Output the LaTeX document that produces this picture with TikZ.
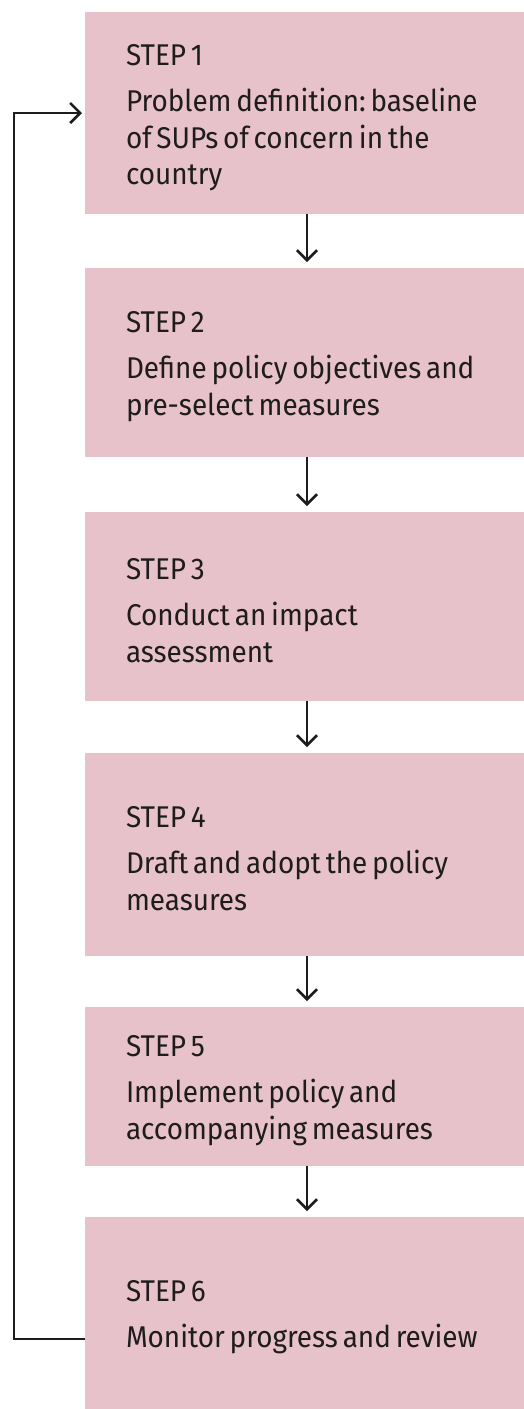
\documentclass[tikz,border=0pt]{standalone}
\usepackage{fontspec}
\setmainfont[FakeStretch=0.93]{Fira Sans}
\usetikzlibrary{arrows.meta}
\definecolor{stepfill}{HTML}{E8C2CA}
\definecolor{ink}{HTML}{1E1C1D}
\newcommand{\steplabel}[2]{\frenchspacing\spaceskip=0.16em plus 0.05em\relax
  \xspaceskip=\spaceskip #1\\[4.75pt]#2}
\begin{document}
\begin{tikzpicture}
[x=0.5pt,y=-0.5pt,%
  every node/.style={inner sep=0pt,outer sep=0pt},%
  stepbox/.style={fill=stepfill,minimum width=219.5pt},%
  steptext/.style={anchor=west,text width=205pt,align=left,text=ink,%
    font=\fontsize{15pt}{18.25pt}\selectfont},%
  flow/.style={draw=ink,line width=1.3pt,-{Straight Barb[length=5pt,width=10pt]}}]
\useasboundingbox (0,0) rectangle (524,1409);
% boxes
\node[stepbox,minimum height=101pt] (s1) at (304.5,113) {};
\node[stepbox,minimum height=94.5pt] (s2) at (304.5,362.5) {};
\node[stepbox,minimum height=94.5pt] (s3) at (304.5,606.5) {};
\node[stepbox,minimum height=101.5pt] (s4) at (304.5,854.5) {};
\node[stepbox,minimum height=79.5pt] (s5) at (304.5,1086.5) {};
\node[stepbox,minimum height=96pt] (s6) at (304.5,1313) {};
% texts
\node[steptext] (t1) at ([xshift=20.5pt,yshift=-2.5pt]s1.west)
  {\steplabel{STEP 1}{Problem definition: baseline\\of SUPs of concern in the\\country}};
\node[steptext] (t2) at ([xshift=20.5pt,yshift=-2pt]s2.west)
  {\steplabel{STEP 2}{Define policy objectives and\\pre-select measures}};
\node[steptext] (t3) at ([xshift=20.5pt,yshift=-2pt]s3.west)
  {\steplabel{STEP 3}{Conduct an impact\\assessment}};
\node[steptext] (t4) at ([xshift=20.5pt,yshift=-2pt]s4.west)
  {\steplabel{STEP 4}{Draft and adopt the policy\\measures}};
\node[steptext] (t5) at ([xshift=20.5pt,yshift=-2pt]s5.west)
  {\steplabel{STEP 5}{Implement policy and\\accompanying measures}};
\node[steptext] (t6) at ([xshift=20.5pt,yshift=-2pt]s6.west)
  {\steplabel{STEP 6}{Monitor progress and review}};
% arrows
\coordinate (mid) at (307,0);
\coordinate (back) at (14,113);
\foreach \a/\b in {s1/s2,s2/s3,s3/s4,s4/s5,s5/s6}
  \draw[flow,shorten >=3pt] (\a.south -| mid) -- (\b.north -| mid);
\draw[flow,shorten >=1.5pt] ([yshift=-13pt]s6.west) -| (back) |- (s1.west);
\end{tikzpicture}
\end{document}
